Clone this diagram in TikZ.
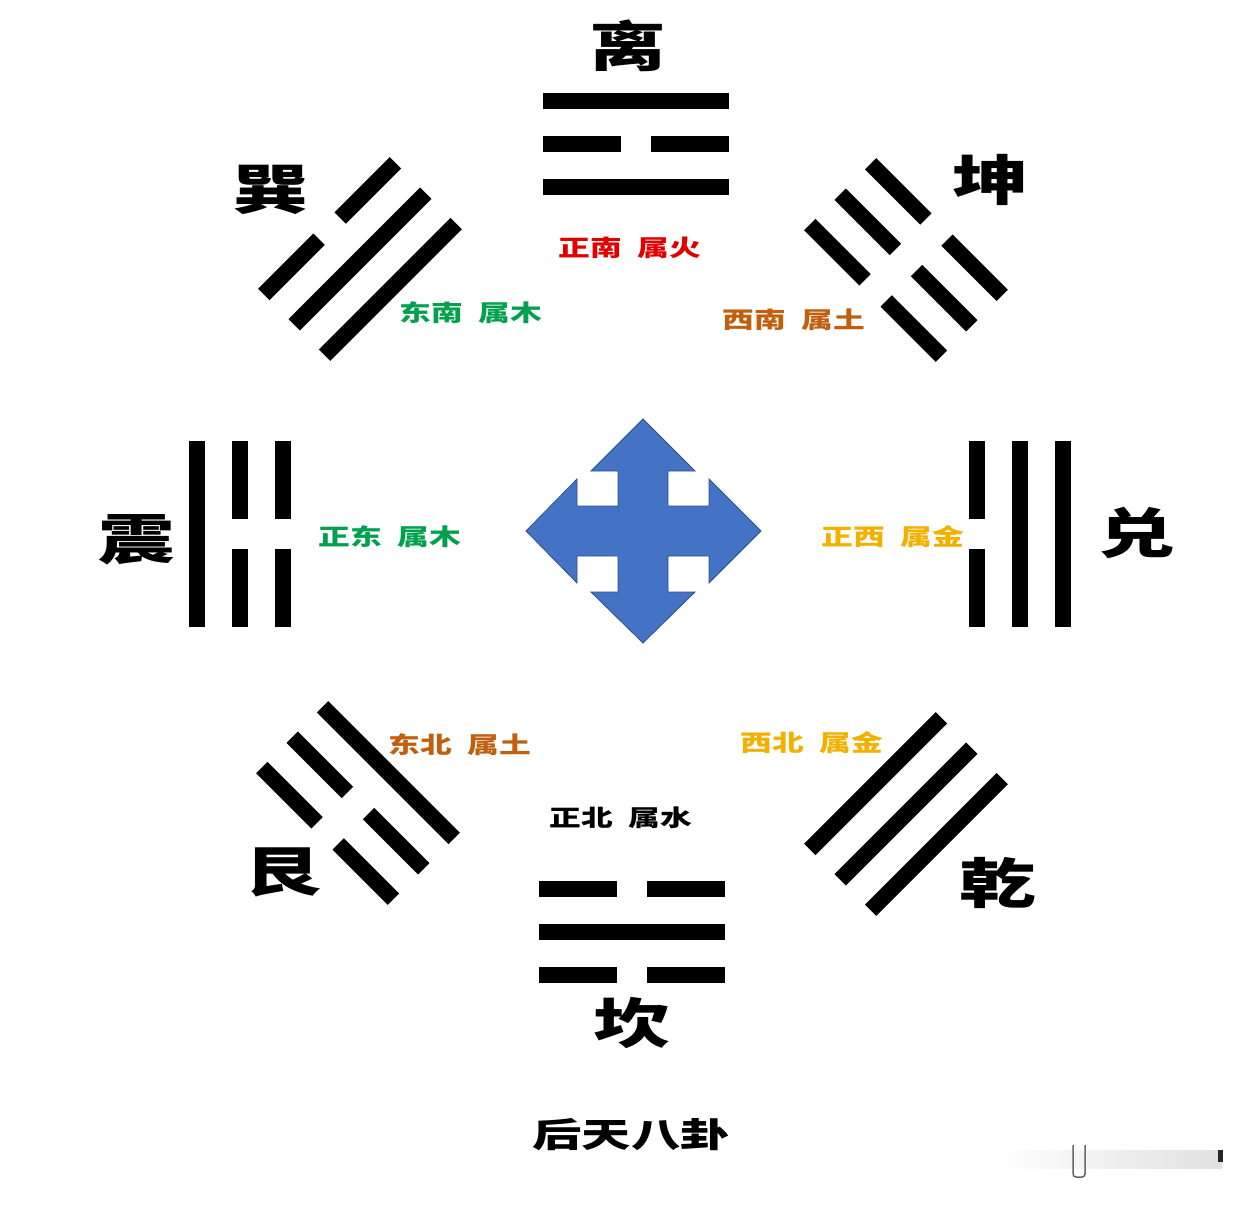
\documentclass[tikz,border=0pt]{standalone}
\usepackage{fontspec}
\newfontfamily\cjk{Noto Sans CJK SC}
\usepackage{tikz}
\usetikzlibrary{positioning}

\definecolor{arrowblue}{HTML}{4472C4}
\definecolor{arrowedge}{HTML}{2F528F}
\definecolor{firered}{HTML}{E00000}
\definecolor{woodgreen}{HTML}{00A04E}
\definecolor{earthbrown}{HTML}{C0600F}
\definecolor{metalgold}{HTML}{F2B000}

% one trigram: centre x, centre y, angle, lines from outside in (1 solid, 0 broken)
\newcommand{\gua}[4]{%
  \begin{scope}[shift={(#1,#2)}, rotate=#3]
    \foreach \k [count=\i] in {#4} {
      \pgfmathsetmacro{\ly}{(\i-2)*43}
      \ifnum\k=1
        \draw[yao] (-93,\ly) -- (93,\ly);
      \else
        \draw[yao] (-93,\ly) -- (-15,\ly);
        \draw[yao] (15,\ly) -- (93,\ly);
      \fi
    }
  \end{scope}}

\begin{document}
\begin{tikzpicture}[
    x=1pt, y=-1pt,
    yao/.style={line width=16pt, line cap=butt, black},
    guaname/.style={font=\cjk\bfseries\fontsize{54}{54}\selectfont, xscale=1.42, inner sep=0pt},
    fangwei/.style={font=\cjk\bfseries\fontsize{23}{23}\selectfont, xscale=1.38, inner sep=0pt},
    titletext/.style={font=\cjk\bfseries\fontsize{34}{34}\selectfont, xscale=1.45, inner sep=0pt}
]
    \useasboundingbox[fill=white] (0,0) rectangle (1254,1206);

    % Trigrams
    \gua{636}{144}{0}{1,0,1}      % li
    \gua{360}{259}{45}{0,1,1}     % xun
    \gua{906}{260}{-45}{0,0,0}    % kun
    \gua{240}{534}{90}{1,0,0}     % zhen
    \gua{1020}{534}{-90}{1,1,0}   % dui
    \gua{358}{803}{135}{0,0,1}    % gen
    \gua{906}{814}{-135}{1,1,1}   % qian
    \gua{632}{932}{180}{0,1,0}    % kan

    % Names
    \node[guaname] (li) at (628,46) {离};
    \node[guaname] (xun) at (271,190) {巽};
    \node[guaname] (kun) at (991,180) {坤};
    \node[guaname] (zhen) at (137,540) {震};
    \node[guaname] (dui) at (1137,533) {兑};
    \node[guaname] (gen) at (283,872) {艮};
    \node[guaname] (qian) at (998,883) {乾};
    \node[guaname] (kan) at (632,1023) {坎};

    % Directions and elements
    \node[fangwei, text=firered] (south) at (630,248) {正南\hspace{0.5em}属火};
    \node[fangwei, text=woodgreen] (southeast) at (471,313) {东南\hspace{0.5em}属木};
    \node[fangwei, text=earthbrown] (southwest) at (794,320) {西南\hspace{0.5em}属土};
    \node[fangwei, text=woodgreen] (east) at (390,537) {正东\hspace{0.5em}属木};
    \node[fangwei, text=metalgold] (west) at (893,537) {正西\hspace{0.5em}属金};
    \node[fangwei, text=earthbrown] (northeast) at (460,745) {东北\hspace{0.5em}属土};
    \node[fangwei, text=metalgold] (northwest) at (812,743) {西北\hspace{0.5em}属金};
    \node[fangwei, text=black] (north) at (621,818) {正北\hspace{0.5em}属水};

    % Centre arrow
    \filldraw[fill=arrowblue, draw=arrowedge, line width=0.8pt, shift={(643,531)}]
        (0,-112) -- (52,-60) -- (25,-60) -- (25,-25) -- (66,-25) -- (66,-52)
        -- (118,0) -- (66,52) -- (66,25) -- (25,25) -- (25,61) -- (52,61)
        -- (0,112) -- (-52,61) -- (-25,61) -- (-25,25) -- (-66,25) -- (-66,52)
        -- (-117,0) -- (-66,-52) -- (-66,-25) -- (-25,-25) -- (-25,-60) -- (-52,-60) -- cycle;

    % Title
    \node[titletext] (title) at (631,1135) {后天八卦};

    % faint mark bottom right
    \shade[left color=white, right color=black!12] (995,1150) rectangle (1222,1168);
    \fill[black!85] (1218,1150) rectangle (1223,1162);
    \draw[black!60, line width=1.5pt, rounded corners=3pt] (1073,1145) -- (1073,1177) -- (1085,1177) -- (1085,1145);
\end{tikzpicture}
\end{document}
